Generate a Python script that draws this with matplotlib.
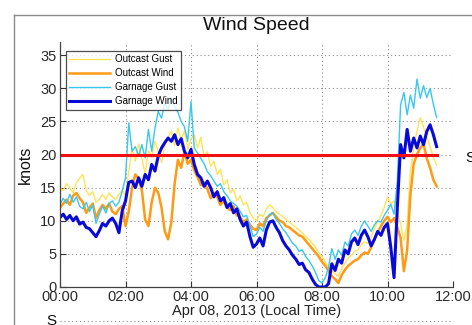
import numpy as np
import matplotlib
matplotlib.use("Agg")
import matplotlib.pyplot as plt
from matplotlib.lines import Line2D

plt.rcParams['font.family'] = ['Liberation Sans', 'DejaVu Sans']

# Time of day in hours (6-minute samples)
hours = np.round(np.arange(0, 11.5001, 0.1), 1)

outcast_gust = [
    15, 14.6, 15.6, 15, 14.2, 15.8, 16.4, 17, 14.6, 13.8,
    14.4, 12.8, 13.2, 14, 13.2, 14.2, 13.6, 13.2, 14, 14.6,
    13.8, 17.4, 21, 19, 21.6, 19.4, 17, 20.6, 19.6, 22,
    20.4, 18.8, 21.4, 22.6, 23.6, 21.4, 24, 22.2, 23.6, 20.8,
    22.4, 23, 21, 22.6, 19.6, 20.4, 18.2, 19, 17, 17.8,
    15.4, 16.2, 14.2, 14.8, 13, 13.8, 12.4, 12.8, 11.2, 10.4,
    10, 11, 10.6, 11.8, 12.4, 12, 11.4, 11, 10.6, 10.2,
    9.8, 9.4, 9, 8.6, 8.2, 7.6, 7.2, 6.6, 6, 5.2,
    4.6, 3.8, 3, 2.4, 2, 1.6, 2.8, 3.6, 4.4, 4.8,
    5.4, 5.6, 6.4, 6.8, 6.6, 7.6, 8.8, 9.8, 10.8, 12,
    13.6, 12.6, 13, 11.4, 9.6, 7, 9.4, 17.6, 21, 23.5,
    25.6, 24.2, 22.6, 21.2, 19.6, 18.4,
]

outcast_wind = [
    12, 12.6, 13.2, 12.4, 13.8, 14.2, 13.4, 12.8, 11.2, 12,
    12.6, 10.4, 11.6, 12.4, 11.8, 12.6, 11.4, 11, 11.8, 12.2,
    9.2, 11.4, 15, 17, 16.4, 14.6, 10.2, 9.2, 12.8, 15,
    14.2, 12, 8.4, 7.2, 9.8, 15.6, 19.2, 18, 20.4, 18.6,
    19.2, 17.6, 16.6, 15.4, 15.8, 14.8, 13.4, 14.2, 13.6, 12.4,
    13, 12, 11.6, 12.2, 10.8, 10.6, 9.8, 10.2, 9.4, 8.8,
    8.6, 9.6, 9.2, 10.4, 10.8, 11.2, 10.6, 10, 9.8, 9.2,
    9, 8.6, 8.2, 7.8, 7.6, 7, 6.4, 5.8, 5.2, 4.6,
    3.8, 3.2, 2.4, 1.6, 1.2, 0.6, 1.8, 2.6, 3.2, 3.6,
    4, 4.2, 4.8, 5.2, 5, 6, 7.2, 8.2, 9.2, 10,
    10.6, 9.8, 10.4, 9, 7.4, 2.4, 5.6, 14, 18.6, 20,
    21, 21.6, 19.4, 18, 16.2, 15.2,
]

garnage_gust = [
    12.5, 13.4, 12.6, 14, 12.8, 13.6, 12.2, 11.8, 12.8, 11.4,
    12.4, 9.6, 11, 12.2, 11.2, 12.6, 13, 12.2, 12.8, 14.5,
    16.5, 24.8, 20.5, 21.2, 19.8, 21.5, 19.5, 23.8, 20.5, 24,
    26.5, 25.5, 27.8, 26.8, 28.6, 27.2, 26.4, 25, 24.2, 22,
    28, 21, 20.2, 19.4, 18.6, 17.4, 16.8, 16, 15.2, 15.6,
    14.4, 13.8, 13, 12.6, 12.2, 11.4, 10.6, 10.8, 9.2, 7.6,
    8, 9, 8.4, 10, 11, 11.2, 10.2, 9.6, 8.8, 8.2,
    7.4, 6.6, 6.2, 5.4, 5.6, 4.6, 4, 3.2, 2.2, 1,
    0.6, 1.4, 3, 5.8, 4.2, 5.6, 4.8, 6.8, 6.2, 8,
    8.6, 7.8, 9.2, 10, 9.2, 8.4, 9.4, 10, 9.8, 10.8,
    11.6, 12.5, 11, 16, 27.5, 29.4, 26, 29, 27, 31.4,
    28.5, 30.4, 28.6, 30, 27.6, 25.6,
]

garnage_wind = [
    10.5, 11, 10.2, 10.8, 10, 10.6, 9.5, 9.8, 9, 8.8,
    8.2, 7.6, 8.5, 9.6, 9.2, 10, 10.4, 9.6, 8.2, 11.5,
    13, 15.8, 16, 15, 16.5, 15.2, 17, 16.2, 18.5, 17.5,
    19.8, 21, 21.8, 22.5, 22, 23, 21.5, 22.4, 20.5, 19.5,
    20.8, 18.5, 17, 16.5, 15.2, 16, 15, 13.6, 14.4, 13,
    13.5, 12, 12.6, 11.2, 11.8, 10.2, 9.2, 9.8, 7.6, 6,
    6.5, 7.4, 6.2, 8.6, 9.8, 10, 9, 8.2, 7, 6.2,
    5.6, 4.8, 4.2, 3.4, 3.6, 2.6, 2.2, 1.2, 0.4, 0,
    0, 0, 0.5, 3.5, 2.5, 4.2, 3.6, 5.6, 5, 6.8,
    7.4, 6.4, 7.8, 8.6, 7.6, 6.2, 7.2, 8.4, 7.8, 9,
    9.6, 6, 1.4, 12, 21.5, 19.5, 23.8, 20.5, 22.5, 21,
    22.8, 21.5, 23.5, 24.5, 23, 21.2,
]

threshold = 20
xtick_hours = [0, 2, 4, 6, 8, 10, 12]
xtick_labels = ["00:00", "02:00", "04:00", "06:00", "08:00", "10:00", "12:00"]
ytick_values = [0, 5, 10, 15, 20, 25, 30, 35]

W, H = 472, 325
fig = plt.figure(figsize=(W / 100, H / 100), dpi=100)
fig.patch.set_facecolor("white")

# Panel frame lines
fig.add_artist(Line2D([14 / W, 1.0], [1 - 15 / H, 1 - 15 / H], color="#8a8a8a", lw=1.0))
fig.add_artist(Line2D([14 / W, 14 / W], [0, 1 - 15 / H], color="#8a8a8a", lw=1.0))

ax = fig.add_axes([60 / W, 1 - 287 / H, (453 - 60) / W, (287 - 42) / H])

ax.plot(hours, outcast_gust, color="#FFE35A", lw=1.0, label="Outcast Gust")
ax.plot(hours, outcast_wind, color="#FF9A14", lw=1.8, label="Outcast Wind")
ax.plot(hours, garnage_gust, color="#38C8EE", lw=1.0, label="Garnage Gust")
ax.plot(hours, garnage_wind, color="#0A0AD8", lw=2.2, label="Garnage Wind")
ax.plot([hours[0], hours[-1]], [threshold, threshold], color="#F01010", lw=2.2)

ax.set_xlim(0, 12)
ax.set_ylim(0, 37)
ax.set_xticks(xtick_hours)
ax.set_xticklabels(xtick_labels)
ax.set_yticks(ytick_values)
ax.tick_params(direction="in", length=4, width=0.8, labelsize=10.5,
               colors="#333333", labelcolor="#2a2a2a", pad=2.5)
for side in ("top", "right"):
    ax.spines[side].set_visible(False)
for side in ("left", "bottom"):
    ax.spines[side].set_color("#444444")
    ax.spines[side].set_linewidth(0.9)
ax.grid(True, linestyle=(0, (1, 2.5)), color="#8c8c8c", lw=0.8)
ax.set_axisbelow(True)

ax.set_ylabel("knots", fontsize=11.5, color="#111111", labelpad=5)
ax.set_xlabel("Apr 08, 2013 (Local Time)", fontsize=10.5, color="#222222", labelpad=0)
fig.text(256 / W, 1 - 25 / H, "Wind Speed", ha="center", va="center",
         fontsize=14, color="#111111")

leg = ax.legend(loc="upper left", bbox_to_anchor=(0.015, 0.965), fontsize=7,
                frameon=True, fancybox=False, handlelength=4.2, handletextpad=0.5,
                borderpad=0.35, labelspacing=0.42, borderaxespad=0)
leg.get_frame().set_edgecolor("#222222")
leg.get_frame().set_linewidth(0.9)

# Neighbouring panels peeking in at the edges
fig.text(51 / W, 1 - 321 / H, "S", ha="center", va="center", fontsize=11, color="#111111")
fig.add_artist(Line2D([60 / W, 453 / W], [1 - 321 / H, 1 - 321 / H],
                      color="#8c8c8c", lw=0.8, linestyle=(0, (1, 2.5))))
fig.text(470 / W, 1 - 158 / H, "S", ha="center", va="center", fontsize=11, color="#111111")

fig.savefig("out.png", dpi=100)
